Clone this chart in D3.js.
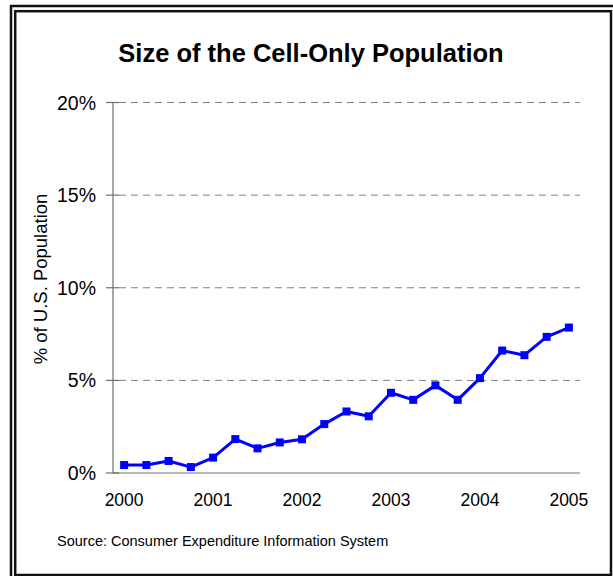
<!DOCTYPE html>
<html>
<head>
<meta charset="utf-8">
<script src="https://cdn.jsdelivr.net/npm/d3@7"></script>
<style>
    body { margin: 0; background: #fff; }
    svg { display: block; font-family: Arial, "Liberation Sans", sans-serif; }
    .grid { stroke: #808080; stroke-width: 1; stroke-dasharray: 7,5; }
    .axis-line { stroke: #6e6e6e; stroke-width: 1.2; }
</style>
</head>
<body>
<svg id="svg-container"></svg>
<script>
const width = 613;
const height = 576;

// quarterly observations, 2000 Q1 .. 2005 Q1
var quarters = ["2000 Q1","2000 Q2","2000 Q3","2000 Q4",
                "2001 Q1","2001 Q2","2001 Q3","2001 Q4",
                "2002 Q1","2002 Q2","2002 Q3","2002 Q4",
                "2003 Q1","2003 Q2","2003 Q3","2003 Q4",
                "2004 Q1","2004 Q2","2004 Q3","2004 Q4",
                "2005 Q1"];
var cellOnly = [0.43, 0.43, 0.65, 0.32, 0.83, 1.83, 1.33, 1.65, 1.82, 2.64, 3.32,
                3.06, 4.33, 3.95, 4.73, 3.95, 5.12, 6.61, 6.36, 7.35, 7.85];
var yearLabels = ["2000","2001","2002","2003","2004","2005"];
var yTicks = [0, 5, 10, 15, 20];

var data = quarters.map(function(q, i) { return {q: q, v: cellOnly[i]}; });

var svg = d3.select("#svg-container")
    .attr("width", width)
    .attr("height", height);

// double frame
svg.append("rect")
    .attr("x", 11).attr("y", 6)
    .attr("width", 700).attr("height", 700)
    .attr("fill", "none").attr("stroke", "#111").attr("stroke-width", 2.5);
svg.append("rect")
    .attr("x", 15.2).attr("y", 11.2)
    .attr("width", 595.8).attr("height", 563.8)
    .attr("fill", "#fff").attr("stroke", "#111").attr("stroke-width", 2.5);

var plotLeft = 113, plotRight = 580, plotTop = 102.5, plotBottom = 473;

var x = d3.scalePoint().domain(quarters).range([plotLeft, plotRight]).padding(0.5);
var y = d3.scaleLinear().domain([0, 20]).range([plotBottom, plotTop]);

// gridlines
svg.selectAll(".grid")
    .data(yTicks.filter(d => d > 0))
    .enter().append("line")
    .attr("class", "grid")
    .attr("x1", plotLeft + 6).attr("x2", plotRight)
    .attr("y1", d => y(d)).attr("y2", d => y(d));

// y axis line and ticks
svg.append("line").attr("class", "axis-line")
    .attr("x1", plotLeft).attr("x2", plotLeft)
    .attr("y1", y(20)).attr("y2", y(0));
svg.selectAll(".ytick")
    .data(yTicks)
    .enter().append("line")
    .attr("class", "axis-line ytick")
    .attr("x1", plotLeft - 7).attr("x2", plotLeft + 6)
    .attr("y1", d => y(d)).attr("y2", d => y(d));
svg.append("line").attr("class", "axis-line")
    .attr("x1", plotLeft).attr("x2", plotRight)
    .attr("y1", y(0)).attr("y2", y(0));

svg.selectAll(".ylabel")
    .data(yTicks)
    .enter().append("text")
    .attr("class", "ylabel")
    .attr("x", 96)
    .attr("y", d => y(d) + 7)
    .attr("text-anchor", "end")
    .attr("font-size", "19.5px")
    .text(d => d + "%");

// x labels at first quarter of each year
svg.selectAll(".xlabel")
    .data(yearLabels)
    .enter().append("text")
    .attr("class", "xlabel")
    .attr("x", d => x(d + " Q1"))
    .attr("y", 506)
    .attr("text-anchor", "middle")
    .attr("font-size", "17.5px")
    .text(d => d);

// series
var line = d3.line()
    .x(d => x(d.q))
    .y(d => y(d.v));
svg.append("path")
    .datum(data)
    .attr("d", line)
    .attr("fill", "none")
    .attr("stroke", "#0000ff")
    .attr("stroke-width", 3)
    .attr("stroke-linejoin", "round");
svg.selectAll(".marker")
    .data(data)
    .enter().append("rect")
    .attr("class", "marker")
    .attr("x", d => x(d.q) - 4)
    .attr("y", d => y(d.v) - 4)
    .attr("width", 8).attr("height", 8)
    .attr("fill", "#0000ff");

// titles
svg.append("text")
    .attr("x", 311).attr("y", 62)
    .attr("text-anchor", "middle")
    .attr("font-size", "25.5px")
    .attr("font-weight", "bold")
    .text("Size of the Cell-Only Population");
svg.append("text")
    .attr("transform", "translate(47,279) rotate(-90)")
    .attr("text-anchor", "middle")
    .attr("font-size", "18.5px")
    .text("% of U.S. Population");
svg.append("text")
    .attr("x", 57).attr("y", 546)
    .attr("font-size", "14.5px")
    .text("Source: Consumer Expenditure Information System");
</script>
</body>
</html>
